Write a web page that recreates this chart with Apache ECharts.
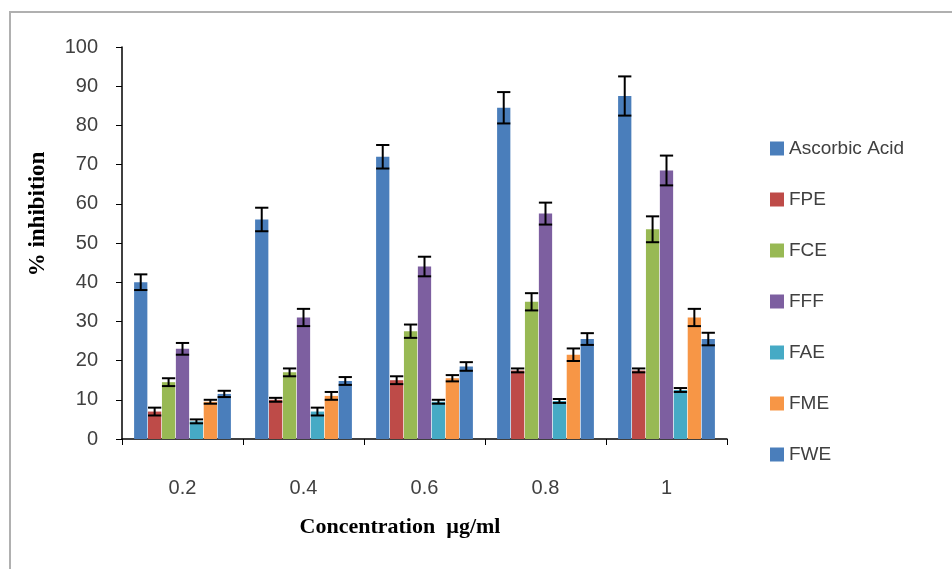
<!DOCTYPE html>
<html>
<head>
<meta charset="utf-8">
<script src="https://cdn.jsdelivr.net/npm/echarts@6/dist/echarts.min.js"></script>
<style>html,body{margin:0;padding:0;background:#fff;}#c{width:952px;height:569px;}</style>
</head>
<body>
<div id="c"></div>
<script>
var categories = ['0.2', '0.4', '0.6', '0.8', '1'];
var seriesNames = ['Ascorbic Acid', 'FPE', 'FCE', 'FFF', 'FAE', 'FME', 'FWE'];
var ascorbic = [40, 56, 72, 84.5, 87.5];
var fpe = [7, 10, 15, 17.5, 17.5];
var fce = [14.5, 17, 27.5, 35, 53.5];
var fff = [23, 31, 44, 57.5, 68.5];
var fae = [4.5, 7, 9.5, 9.7, 12.5];
var fme = [9.5, 11, 15.5, 21.5, 31];
var fwe = [11.5, 14.8, 18.5, 25.5, 25.5];
var ascorbicErr = [2, 3, 3, 4, 5];
var fpeErr = [1, 0.5, 1, 0.5, 0.5];
var fceErr = [1, 1, 1.7, 2.2, 3.3];
var fffErr = [1.5, 2.2, 2.5, 2.8, 3.8];
var faeErr = [0.5, 1, 0.5, 0.5, 0.5];
var fmeErr = [0.5, 1, 0.8, 1.6, 2.2];
var fweErr = [0.8, 1, 1.1, 1.5, 1.6];
var yTicks = [0, 10, 20, 30, 40, 50, 60, 70, 80, 90, 100];
var xTitle = 'Concentration  \u00b5g/ml';
var yTitle = '% inhibition';

var values = [ascorbic, fpe, fce, fff, fae, fme, fwe];
var errors = [ascorbicErr, fpeErr, fceErr, fffErr, faeErr, fmeErr, fweErr];
var colors = ['#4A7EBB', '#BE4B48', '#98B954', '#7D5FA0', '#46AAC5', '#F79646', '#4A7EBB'];

var N = seriesNames.length;
var CAT_GAP = 0.2, BAR_GAP = 0.05;

var series = [];
seriesNames.forEach(function (name, i) {
  series.push({
    name: name,
    type: 'bar',
    data: values[i],
    barCategoryGap: '20%',
    barGap: '5%',
    itemStyle: { color: colors[i] },
    z: 2
  });
});
seriesNames.forEach(function (name, i) {
  series.push({
    name: name + ' err',
    type: 'custom',
    data: values[i].map(function (v, k) { return [k, v, errors[i][k]]; }),
    z: 5,
    silent: true,
    renderItem: (function (sIdx) {
      return function (params, api) {
        var ci = api.value(0), v = api.value(1), e = api.value(2);
        var band = api.size([1, 0])[0];
        var w = band * (1 - CAT_GAP) / (N + (N - 1) * BAR_GAP);
        var total = N * w + (N - 1) * BAR_GAP * w;
        var cx = api.coord([ci, 0])[0] - total / 2 + sIdx * w * (1 + BAR_GAP) + w / 2;
        var yt = api.coord([ci, v + e])[1];
        var yb = api.coord([ci, v - e])[1];
        var half = w * 0.5;
        var st = { stroke: '#000', lineWidth: 2 };
        return {
          type: 'group',
          children: [
            { type: 'line', shape: { x1: cx, y1: yt, x2: cx, y2: yb }, style: st },
            { type: 'line', shape: { x1: cx - half, y1: yt, x2: cx + half, y2: yt }, style: st },
            { type: 'line', shape: { x1: cx - half, y1: yb, x2: cx + half, y2: yb }, style: st }
          ]
        };
      };
    })(i)
  });
});

var chart = echarts.init(document.getElementById('c'));
chart.setOption({
  animation: false,
  backgroundColor: '#fff',
  grid: { left: 122, right: 225, top: 47, bottom: 130, containLabel: false },
  legend: {
    data: seriesNames,
    orient: 'vertical',
    left: 765,
    top: 134,
    itemWidth: 14,
    itemHeight: 14,
    itemGap: 32,
    icon: 'rect',
    textStyle: { fontFamily: 'Liberation Sans', fontSize: 19, color: '#404040', lineHeight: 19 }
  },
  xAxis: {
    type: 'category',
    data: categories,
    axisLine: { lineStyle: { color: '#000', width: 1.5 } },
    axisTick: { show: true, length: 6, lineStyle: { color: '#000' } },
    axisLabel: { fontFamily: 'Liberation Sans', fontSize: 20, color: '#404040', margin: 39 }
  },
  yAxis: {
    type: 'value',
    min: 0,
    max: 100,
    interval: 10,
    axisLine: { show: true, lineStyle: { color: '#000', width: 1.5 } },
    axisTick: { show: true, length: 6, lineStyle: { color: '#000' } },
    axisLabel: { fontFamily: 'Liberation Sans', fontSize: 20, color: '#404040', margin: 24,
      formatter: function (v) { return yTicks.indexOf(v) >= 0 ? String(v) : ''; } },
    splitLine: { show: false }
  },
  graphic: [
    { type: 'rect', shape: { x: 10, y: 12, width: 960, height: 580 },
      style: { fill: 'none', stroke: '#b0b0b0', lineWidth: 2 }, silent: true, z: -1 },
    { type: 'text', x: 400, y: 527,
      style: { text: xTitle, font: 'bold 22px "Liberation Serif"', fill: '#000', align: 'center', verticalAlign: 'middle' } },
    { type: 'text', x: 38, y: 214, rotation: Math.PI / 2,
      style: { text: yTitle, font: 'bold 23px "Liberation Serif"', fill: '#000', align: 'center', verticalAlign: 'middle' } }
  ],
  series: series
});
</script>
</body>
</html>
